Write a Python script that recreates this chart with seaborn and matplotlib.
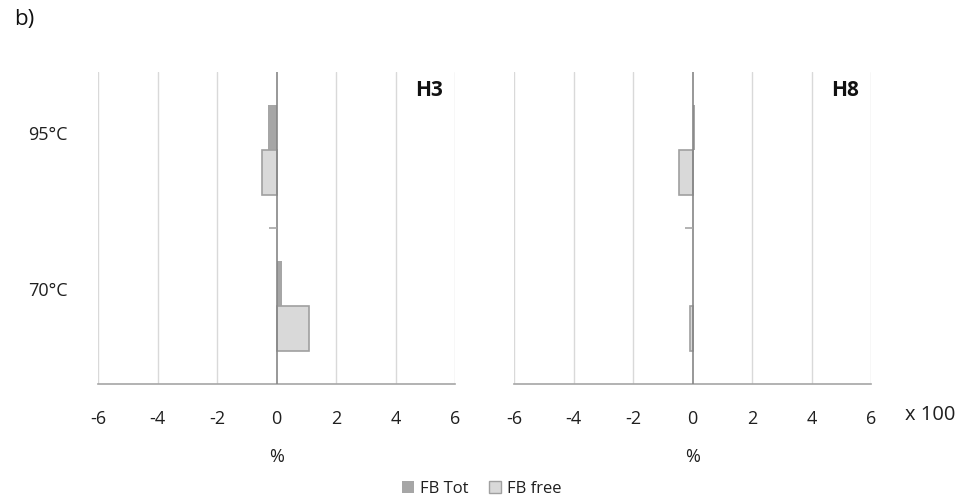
import matplotlib
matplotlib.use("Agg")
import matplotlib.pyplot as plt
import matplotlib.transforms as mtransforms
import seaborn as sns
import pandas as pd
from matplotlib.patches import Patch

categories = ["95°C", "70°C"]
series = ["FB Tot", "FB free"]
h3_tot = [-0.27, 0.19]
h3_free = [-0.48, 1.10]
h8_tot = [0.10, 0.0]
h8_free = [-0.46, -0.08]
xticks = [-6, -4, -2, 0, 2, 4, 6]
panels = ["H3", "H8"]

sns.set_theme(style="white")
plt.rcParams["font.family"] = ["Open Sans", "DejaVu Sans"]

c_tot = "#a6a6a6"
c_free = "#d9d9d9"
edge = "#a0a0a0"
txt = "#1f1f1f"

def make_df(tot, free):
    rows = []
    for s, vals in zip(series, [tot, free]):
        for c, v in zip(categories, vals):
            rows.append({"temp": c, "series": s, "value": v})
    return pd.DataFrame(rows)

fig = plt.figure(figsize=(9.65, 5.01), dpi=100)
W, H = 965, 501
axes = [fig.add_axes([98 / W, 1 - 384 / H, 357 / W, 312 / H]),
        fig.add_axes([514 / W, 1 - 384 / H, 357 / W, 312 / H])]

for ax, (tot, free), name in zip(axes, [(h3_tot, h3_free), (h8_tot, h8_free)], panels):
    df = make_df(tot, free)
    sns.barplot(data=df, x="value", y="temp", hue="series", orient="h",
                order=categories, hue_order=series,
                palette=[c_tot, c_free], width=0.577, ax=ax, legend=False,
                saturation=1)
    for cont, ec in zip(ax.containers, ["none", edge]):
        for p in cont:
            p.set_edgecolor(ec)
            p.set_linewidth(1.2 if ec != "none" else 0)
    ax.set_xlim(-6, 6)
    ax.set_ylim(1.5, -0.5)
    ax.set_xticks(xticks)
    ax.set_xticklabels([str(t) for t in xticks], fontsize=13, color=txt)
    for t in xticks:
        if t != 0:
            ax.axvline(t, color="#d9d9d9", lw=1, zorder=0)
    ax.axvline(0, color="#868686", lw=1.2, zorder=3)
    ax.hlines(0.5, -0.25, 0, color="#a6a6a6", lw=1.2, zorder=3)
    for s in ["top", "right", "left"]:
        ax.spines[s].set_visible(False)
    ax.spines["bottom"].set_color("#a6a6a6")
    ax.spines["bottom"].set_linewidth(1.2)
    ax.tick_params(axis="x", length=0, pad=19)
    ax.set_xlabel("%", fontsize=13, color=txt, labelpad=14)
    ax.set_ylabel("")
    ax.text(0.928, 0.942, name, transform=ax.transAxes,
            fontsize=15, fontweight="bold", ha="center", va="center", color="#111111")

axes[0].set_yticks([0, 1])
axes[0].set_yticklabels(categories, fontsize=13, color=txt)
axes[0].tick_params(axis="y", length=0, pad=22)
off = mtransforms.ScaledTranslation(0, 0.17, fig.dpi_scale_trans)
for lab in axes[0].get_yticklabels():
    lab.set_transform(lab.get_transform() + off)
axes[1].set_yticks([])

fig.text(930.5 / W, 1 - 415 / H, "x 100", fontsize=14.5, ha="center", va="center", color=txt)
fig.text(14 / W, 1 - 19 / H, "b)", fontsize=16, ha="left", va="center", color="#111111")

handles = [Patch(facecolor=c_tot, edgecolor="none"),
           Patch(facecolor=c_free, edgecolor=edge)]
fig.legend(handles, series, loc="center", bbox_to_anchor=(482 / W, 1 - 489 / H),
           ncol=2, frameon=False, fontsize=12, handlelength=0.7, handleheight=0.7,
           handletextpad=0.4, columnspacing=1.2, labelcolor=txt)

fig.savefig("out.png", dpi=100)
